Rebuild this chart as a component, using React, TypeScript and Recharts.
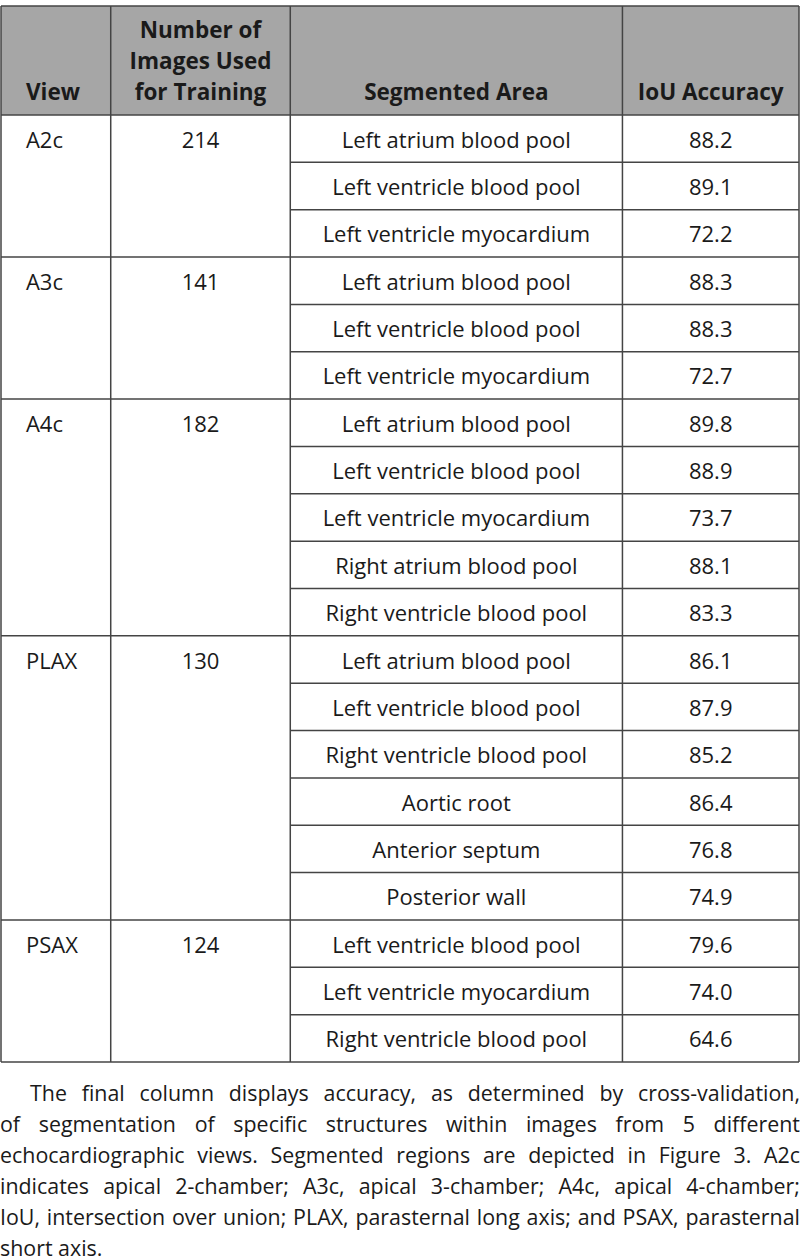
import React from "react";
import {
  ScatterChart,
  Scatter,
  XAxis,
  YAxis,
  ReferenceLine,
  ReferenceArea,
} from "recharts";

// table content
const views = ["A2c", "A3c", "A4c", "PLAX", "PSAX"];
const imagesUsed = [214, 141, 182, 130, 124];
const areasPerView = [3, 3, 5, 6, 3];
const segmentedAreas = [
  "Left atrium blood pool",
  "Left ventricle blood pool",
  "Left ventricle myocardium",
  "Left atrium blood pool",
  "Left ventricle blood pool",
  "Left ventricle myocardium",
  "Left atrium blood pool",
  "Left ventricle blood pool",
  "Left ventricle myocardium",
  "Right atrium blood pool",
  "Right ventricle blood pool",
  "Left atrium blood pool",
  "Left ventricle blood pool",
  "Right ventricle blood pool",
  "Aortic root",
  "Anterior septum",
  "Posterior wall",
  "Left ventricle blood pool",
  "Left ventricle myocardium",
  "Right ventricle blood pool",
];
const iouAccuracy = [
  88.2, 89.1, 72.2, 88.3, 88.3, 72.7, 89.8, 88.9, 73.7, 88.1, 83.3, 86.1, 87.9,
  85.2, 86.4, 76.8, 74.9, 79.6, 74.0, 64.6,
];
const headers = [
  ["View"],
  ["Number of", "Images Used", "for Training"],
  ["Segmented Area"],
  ["IoU Accuracy"],
];
// caption, line by line as printed
const captionLines = [
  "The final column displays accuracy, as determined by cross-validation,",
  "of segmentation of specific structures within images from 5 different",
  "echocardiographic views. Segmented regions are depicted in Figure 3. A2c",
  "indicates apical 2-chamber; A3c, apical 3-chamber; A4c, apical 4-chamber;",
  "IoU, intersection over union; PLAX, parasternal long axis; and PSAX, parasternal",
  "short axis.",
];

// layout (x in px of the 800 wide table, y in row units)
const W = 800;
const COL_EDGES = [0, 110, 290, 623, 800];
const VIEW_X = 25;
const HEADER_ROWS = 2.302;
const HEADER_LINE = 0.655;
const LINE = "#444";
const INK = "#1a1a1a";

const nRows = segmentedAreas.length;
const groupStarts = areasPerView.reduce<number[]>(
  (acc, n, i) => [...acc, i === 0 ? 0 : acc[i - 1] + areasPerView[i - 1]],
  []
);
const mid = (i: number) => (COL_EDGES[i] + COL_EDGES[i + 1]) / 2;

const viewCells = views.map((v, i) => ({ x: VIEW_X, y: groupStarts[i] + 0.5, text: v }));
const countCells = imagesUsed.map((n, i) => ({ x: mid(1), y: groupStarts[i] + 0.5, text: String(n) }));
const areaCells = segmentedAreas.map((s, i) => ({ x: mid(2), y: i + 0.5, text: s }));
const iouCells = iouAccuracy.map((v, i) => ({ x: mid(3), y: i + 0.5, text: v.toFixed(1) }));
const headerCells = headers.flatMap((lines, c) =>
  lines.map((t, k) => ({
    x: c === 0 ? VIEW_X : mid(c),
    y: -0.486 - (lines.length - 1 - k) * HEADER_LINE,
    text: t,
    anchor: c === 0 ? "start" : "middle",
  }))
);

const cellText =
  (anchor: string, bold = false, size = 22) =>
  (props: any) => (
    <text
      x={props.cx}
      y={props.cy}
      textAnchor={props.payload.anchor ?? anchor}
      dominantBaseline="central"
      fontSize={size}
      fontWeight={bold ? 700 : 400}
      fill={INK}
    >
      {props.payload.text}
    </text>
  );

export default function App() {
  // inner lines only under the segmented area / IoU columns
  const innerLines: number[] = [];
  for (let r = 1; r < nRows; r++) if (!groupStarts.includes(r)) innerLines.push(r);

  return (
    <div style={{ position: "absolute", left: 0, top: 0, width: W, fontFamily: "'Open Sans', sans-serif", background: "#fff" }}>
      <ScatterChart width={W} height={1064} margin={{ top: 6, right: 1, bottom: 2, left: 1 }}>
        <XAxis type="number" dataKey="x" domain={[0, W]} hide />
        <YAxis type="number" dataKey="y" domain={[-HEADER_ROWS, nRows]} reversed hide />
        <ReferenceArea x1={0} x2={W} y1={-HEADER_ROWS} y2={0} fill="#a6a6a6" fillOpacity={1} stroke="none" />
        {/* outer border and column rules */}
        {COL_EDGES.map((x) => (
          <ReferenceLine key={`v${x}`} x={x} stroke={LINE} strokeWidth={1.5} />
        ))}
        <ReferenceLine y={-HEADER_ROWS} stroke={LINE} strokeWidth={1.5} />
        <ReferenceLine y={0} stroke={LINE} strokeWidth={1.5} />
        <ReferenceLine y={nRows} stroke={LINE} strokeWidth={1.5} />
        {groupStarts.slice(1).map((r) => (
          <ReferenceLine key={`g${r}`} y={r} stroke={LINE} strokeWidth={1.5} />
        ))}
        {innerLines.map((r) => (
          <ReferenceLine
            key={`r${r}`}
            segment={[
              { x: COL_EDGES[2], y: r },
              { x: W, y: r },
            ]}
            stroke={LINE}
            strokeWidth={1.5}
          />
        ))}
        <Scatter data={headerCells} shape={cellText("middle", true, 22.5)} isAnimationActive={false} />
        <Scatter data={viewCells} shape={cellText("start")} isAnimationActive={false} />
        <Scatter data={countCells} shape={cellText("middle")} isAnimationActive={false} />
        <Scatter data={areaCells} shape={cellText("middle")} isAnimationActive={false} />
        <Scatter data={iouCells} shape={cellText("middle")} isAnimationActive={false} />
      </ScatterChart>
      <div style={{ marginTop: 13, fontSize: 21.4, lineHeight: "31px", color: INK }}>
        {captionLines.map((l, i) => (
          <div
            key={i}
            style={{
              whiteSpace: "nowrap",
              textAlign: "justify",
              textAlignLast: i < captionLines.length - 1 ? "justify" : "left",
              textIndent: i === 0 ? 30 : 0,
            }}
          >
            {l}
          </div>
        ))}
      </div>
    </div>
  );
}
